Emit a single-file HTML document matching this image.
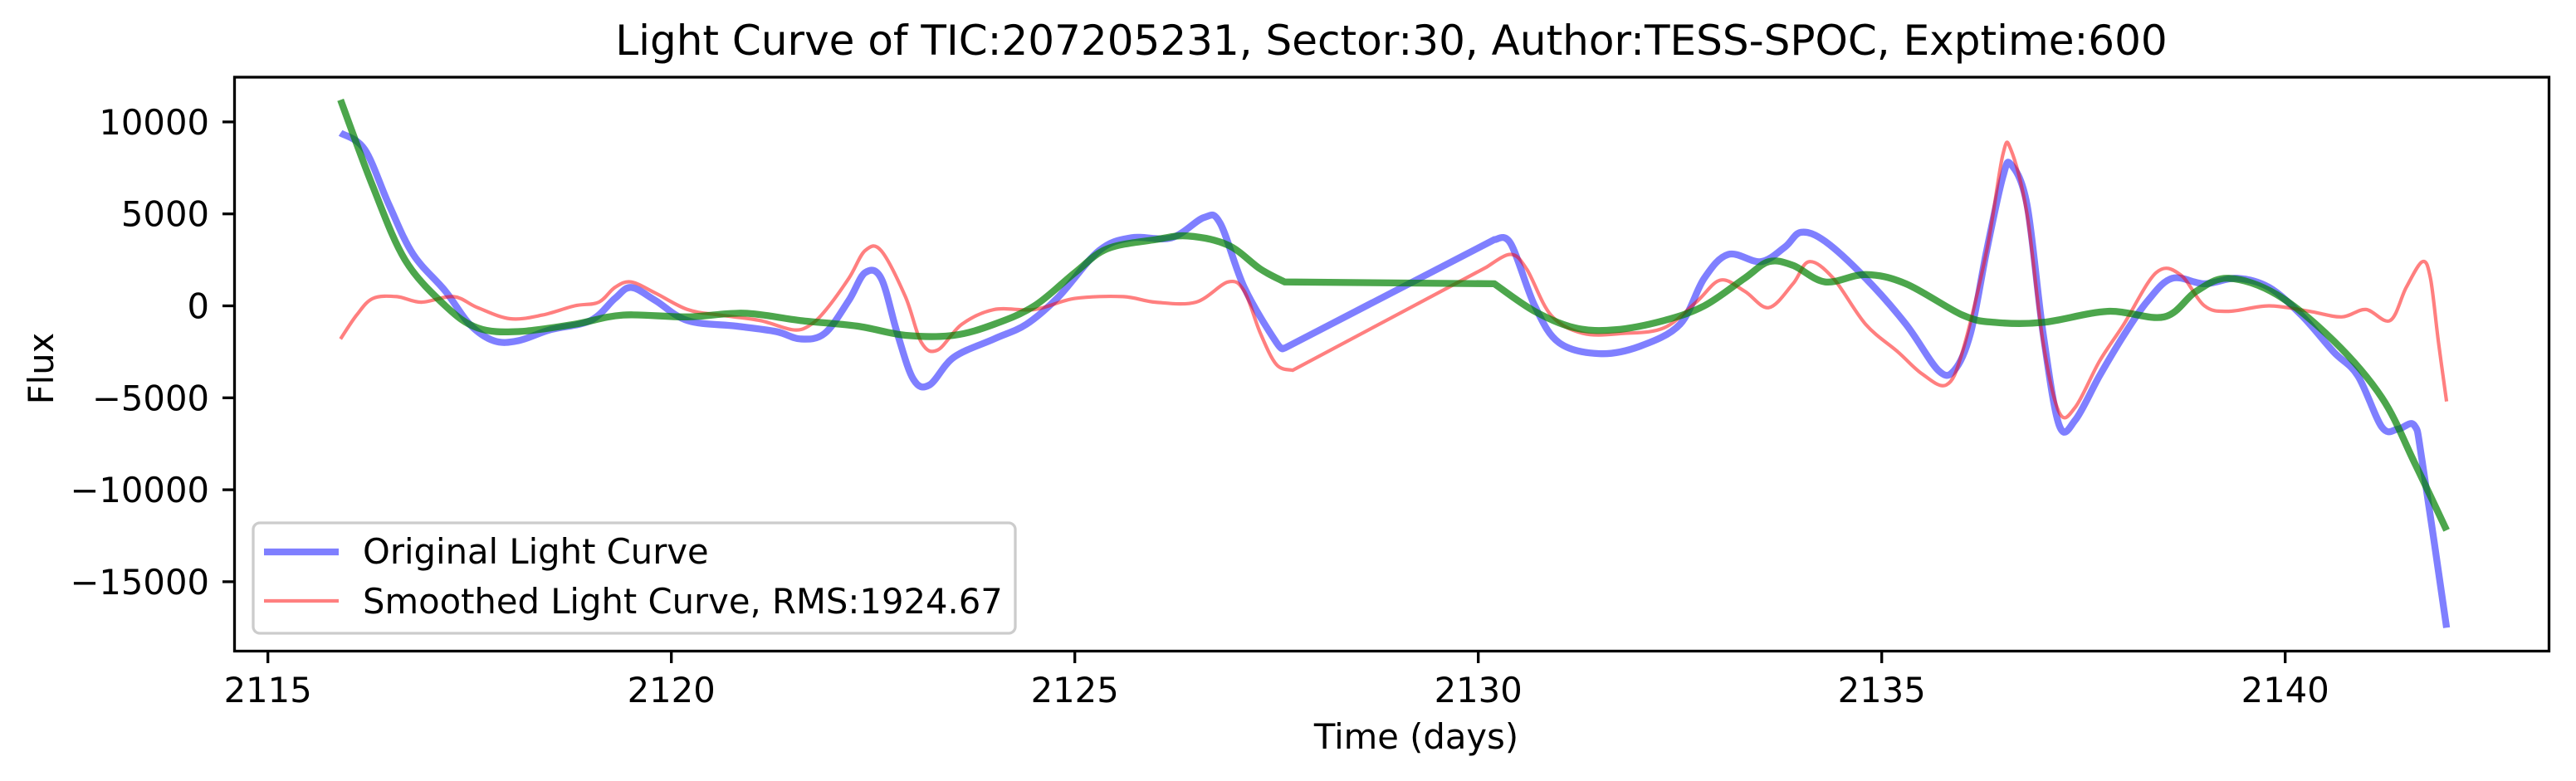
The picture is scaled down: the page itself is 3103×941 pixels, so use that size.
<!DOCTYPE html>
<html><head><meta charset="utf-8"><style>
html,body{margin:0;padding:0;background:#fff;}
svg{display:block;font-family:"DejaVu Sans","Liberation Sans",sans-serif;}
</style></head><body>
<svg id="chart" width="3103" height="941" viewBox="0 0 3103 941" xmlns="http://www.w3.org/2000/svg">
<rect x="0" y="0" width="3103" height="941" fill="#fff"/>
<text x="1676" y="66" font-size="50" text-anchor="middle">Light Curve of TIC:207205231, Sector:30, Author:TESS-SPOC, Exptime:600</text>
<g id="series"></g>
<rect x="282.5" y="93" width="2788" height="691.5" fill="none" stroke="#000" stroke-width="3.3"/>
<g id="xticks"></g>
<g id="yticks"></g>
<text x="1706" y="902" font-size="41.7" text-anchor="middle">Time (days)</text>
<text x="0" y="0" font-size="41.7" text-anchor="middle" transform="translate(64,444) rotate(-90)">Flux</text>
<g>
<rect x="305" y="630" width="918" height="133" rx="8" fill="#fff" fill-opacity="0.8" stroke="#ccc" stroke-width="3.3"/>
<line x1="318" y1="665" x2="408" y2="665" stroke="#0000ff" stroke-opacity="0.5" stroke-width="8.3"/>
<text x="437" y="679" font-size="41.7">Original Light Curve</text>
<line x1="318" y1="724" x2="408" y2="724" stroke="#ff0000" stroke-opacity="0.5" stroke-width="4.2"/>
<text x="437" y="739" font-size="41.7">Smoothed Light Curve, RMS:1924.67</text>
</g>
</svg>
<script>
const xTicks = [2115, 2120, 2125, 2130, 2135, 2140];
const yTicks = [10000, 5000, 0, -5000, -10000, -15000];
const yTickLabels = ["10000", "5000", "0", "\u22125000", "\u221210000", "\u221215000"];

const origT = [2115.9,2116.2,2116.5,2116.8,2117.2,2117.5,2117.8,2118.1,2118.5,2119.0,2119.3,2119.5,2119.8,2120.2,2120.8,2121.3,2121.6,2121.9,2122.2,2122.4,2122.6,2122.8,2123.0,2123.2,2123.5,2124.0,2124.4,2124.8,2125.3,2125.7,2126.2,2126.6,2126.8,2127.1,2127.5,2127.6,2130.2,2130.4,2130.7,2131.0,2131.5,2132.0,2132.5,2132.8,2133.1,2133.5,2133.8,2134.0,2134.3,2134.8,2135.3,2135.7,2135.9,2136.1,2136.3,2136.5,2136.6,2136.8,2137.0,2137.2,2137.4,2137.7,2138.0,2138.3,2138.6,2139.0,2139.4,2139.8,2140.2,2140.6,2140.9,2141.2,2141.4,2141.6,2141.7,2142.0];
const origF = [9400,8500,5500,2800,800,-1000,-1900,-1900,-1300,-800,400,1000,300,-800,-1100,-1400,-1800,-1500,300,1800,1500,-1500,-4000,-4300,-2800,-1800,-1000,500,3000,3700,3700,4800,4500,1000,-2000,-2300,3600,3400,0,-2000,-2600,-2200,-1000,1500,2800,2400,3200,4000,3500,1500,-1000,-3500,-3500,-1500,3000,7000,7700,5500,-1500,-6500,-6200,-3800,-1600,300,1500,1200,1500,1000,-500,-2500,-3800,-6600,-6700,-6500,-8500,-17500];

const smoothT = [2115.9,2116.1,2116.3,2116.6,2116.9,2117.3,2117.6,2118.0,2118.4,2118.8,2119.1,2119.3,2119.5,2119.8,2120.2,2120.6,2121.1,2121.5,2121.7,2121.9,2122.2,2122.4,2122.6,2122.9,2123.1,2123.3,2123.6,2124.0,2124.5,2125.0,2125.6,2126.0,2126.5,2126.9,2127.1,2127.3,2127.5,2127.7,2130.1,2130.4,2130.6,2130.9,2131.3,2131.8,2132.3,2132.7,2133.0,2133.3,2133.6,2133.9,2134.1,2134.4,2134.8,2135.2,2135.5,2135.8,2136.0,2136.3,2136.5,2136.6,2136.8,2137.0,2137.2,2137.4,2137.7,2138.0,2138.4,2138.7,2139.0,2139.3,2139.8,2140.3,2140.7,2141.0,2141.3,2141.5,2141.7,2141.8,2141.9,2142.0];
const smoothF = [-1800,-500,400,500,200,500,-100,-700,-500,0,200,1000,1300,700,-200,-500,-800,-1300,-1100,-300,1500,3000,3000,500,-2000,-2400,-1000,-200,-200,400,500,200,200,1300,800,-1500,-3200,-3500,2100,2800,2000,-500,-1500,-1500,-1200,200,1400,800,-100,1200,2400,1500,-1000,-2500,-3700,-4300,-2500,3000,8200,8500,5000,-2000,-5800,-5500,-3000,-1000,1800,1700,0,-300,0,-300,-600,-200,-800,1000,2400,1500,-2000,-5200];

const trendT = [2115.9,2116.3,2116.7,2117.2,2117.6,2118.1,2118.8,2119.4,2120.2,2120.9,2121.6,2122.3,2122.9,2123.5,2124.0,2124.5,2125.0,2125.4,2126.0,2126.4,2126.9,2127.3,2127.6,2130.2,2130.7,2131.2,2131.7,2132.3,2132.8,2133.3,2133.6,2133.9,2134.3,2134.8,2135.3,2136.0,2136.4,2137.0,2137.8,2138.5,2138.9,2139.3,2139.9,2140.6,2141.2,2141.6,2142.0];
const trendF = [11200,6500,2500,0,-1200,-1400,-1000,-500,-600,-400,-800,-1100,-1600,-1600,-1000,0,1800,3100,3600,3800,3300,2000,1300,1200,-300,-1200,-1300,-800,0,1500,2400,2200,1300,1700,1200,-500,-900,-900,-300,-600,800,1500,600,-1900,-5000,-8500,-12200];

const NS = "http://www.w3.org/2000/svg";
function xs(t){ return 322.7 + (t - 2115) * 97.2; }
function ys(v){ return 368.5 - v * 0.02216; }

function pathFrom(T, F){
  const P = T.map((t, i) => [xs(t), ys(F[i])]);
  let d = "M" + P[0][0].toFixed(1) + "," + P[0][1].toFixed(1);
  for (let i = 0; i < P.length - 1; i++){
    if (T[i+1] - T[i] > 1) { d += "L" + P[i+1][0].toFixed(1) + "," + P[i+1][1].toFixed(1); continue; }
    const p0 = (i > 0 && T[i] - T[i-1] <= 1) ? P[i-1] : P[i];
    const p1 = P[i], p2 = P[i+1];
    const p3 = (i + 2 < P.length && T[i+2] - T[i+1] <= 1) ? P[i+2] : P[i+1];
    const c1x = p1[0] + (p2[0] - p0[0]) / 6, c1y = p1[1] + (p2[1] - p0[1]) / 6;
    const c2x = p2[0] - (p3[0] - p1[0]) / 6, c2y = p2[1] - (p3[1] - p1[1]) / 6;
    d += "C" + c1x.toFixed(1) + "," + c1y.toFixed(1) + " " + c2x.toFixed(1) + "," + c2y.toFixed(1) + " " + p2[0].toFixed(1) + "," + p2[1].toFixed(1);
  }
  return d;
}
const g = document.getElementById("series");
function addLine(T, F, color, w, name){
  const p = document.createElementNS(NS, "path");
  p.setAttribute("d", pathFrom(T, F));
  p.setAttribute("fill", "none");
  p.setAttribute("stroke", color);
  p.setAttribute("stroke-width", w);
  p.setAttribute("stroke-opacity", color === "#008000" ? "0.7" : "0.5");
  p.setAttribute("stroke-linejoin", "round");
  
  
  g.appendChild(p);
}
addLine(origT, origF, "#0000ff", 8.3, "original-light-curve");
addLine(smoothT, smoothF, "#ff0000", 4.2, "smoothed-light-curve");
addLine(trendT, trendF, "#008000", 8.3, "trend-curve");

const xg = document.getElementById("xticks");
xTicks.forEach(t => {
  const l = document.createElementNS(NS, "line");
  l.setAttribute("x1", xs(t)); l.setAttribute("x2", xs(t));
  l.setAttribute("y1", 784.5); l.setAttribute("y2", 799);
  l.setAttribute("stroke", "#000"); l.setAttribute("stroke-width", 3.3);
  
  
  xg.appendChild(l);
  const tx = document.createElementNS(NS, "text");
  tx.setAttribute("x", xs(t)); tx.setAttribute("y", 846);
  tx.setAttribute("font-size", "41.7"); tx.setAttribute("text-anchor", "middle");
  tx.textContent = String(t);
  
  
  xg.appendChild(tx);
});
const yg = document.getElementById("yticks");
yTicks.forEach((v, i) => {
  const l = document.createElementNS(NS, "line");
  l.setAttribute("x1", 268); l.setAttribute("x2", 282.5);
  l.setAttribute("y1", ys(v)); l.setAttribute("y2", ys(v));
  l.setAttribute("stroke", "#000"); l.setAttribute("stroke-width", 3.3);
  
  
  yg.appendChild(l);
  const tx = document.createElementNS(NS, "text");
  tx.setAttribute("x", 252); tx.setAttribute("y", ys(v) + 15);
  tx.setAttribute("font-size", "41.7"); tx.setAttribute("text-anchor", "end");
  tx.textContent = yTickLabels[i];
  
  
  yg.appendChild(tx);
});
</script>
</body></html>
